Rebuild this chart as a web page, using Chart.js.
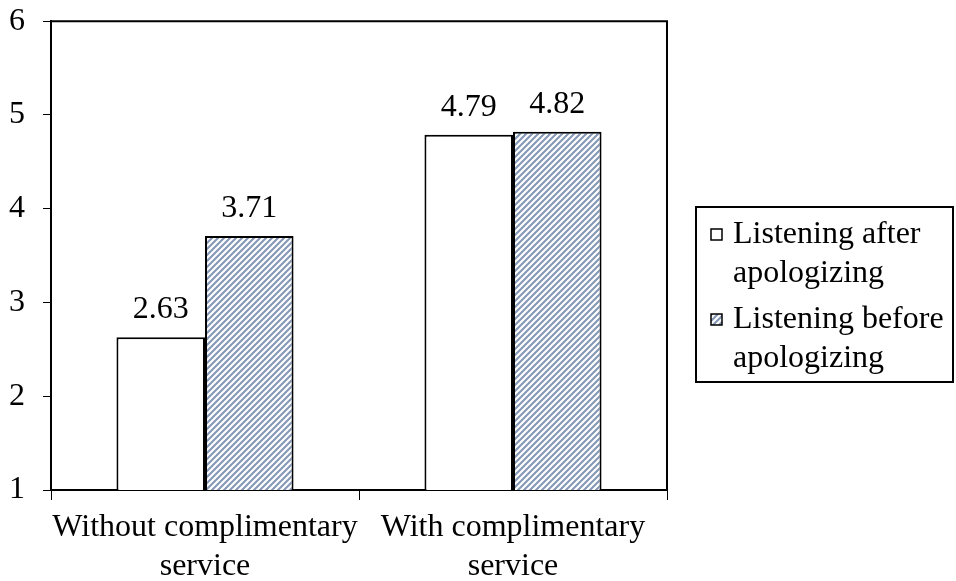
<!DOCTYPE html>
<html>
<head>
<meta charset="utf-8">
<script src="https://cdn.jsdelivr.net/npm/chart.js@4/dist/chart.umd.min.js"></script>
<style>
  html, body { margin: 0; padding: 0; background: #fff; }
  #wrap { position: relative; width: 956px; height: 581px; }
</style>
</head>
<body>
<div id="wrap"><canvas id="c" width="956" height="581"></canvas></div>
<script>
const categories = [['Without complimentary', 'service'], ['With complimentary', 'service']];
const seriesNames = [['Listening after', 'apologizing'], ['Listening before', 'apologizing']];
const afterValues = [2.63, 4.79];
const beforeValues = [3.71, 4.82];
const yTicks = [1, 2, 3, 4, 5, 6];

const FONT = "'Liberation Serif', 'Times New Roman', Times, serif";
const FS = 32;

function makeHatch(color) {
  const s = 6;
  const c = document.createElement('canvas');
  c.width = s; c.height = s;
  const x = c.getContext('2d');
  x.fillStyle = '#ffffff';
  x.fillRect(0, 0, s, s);
  x.strokeStyle = color;
  x.lineWidth = 2.1;
  x.beginPath();
  x.moveTo(-1, s + 1); x.lineTo(s + 1, -1);
  x.moveTo(-s / 2 - 1, s / 2 + 1); x.lineTo(s / 2 + 1, -s / 2 - 1);
  x.moveTo(s / 2 - 1, s * 1.5 + 1); x.lineTo(s * 1.5 + 1, s / 2 - 1);
  x.stroke();
  return x.createPattern(c, 'repeat');
}
const hatch = makeHatch('#8498b6');

const frameAndLabels = {
  id: 'frameAndLabels',
  afterDatasetsDraw(chart) {
    const ctx = chart.ctx;
    const a = chart.chartArea;
    ctx.save();
    ctx.strokeStyle = '#000';
    ctx.lineWidth = 2;
    ctx.beginPath();
    ctx.moveTo(a.left, a.top);
    ctx.lineTo(a.right, a.top);
    ctx.lineTo(a.right, a.bottom);
    ctx.stroke();
    ctx.fillStyle = '#000';
    ctx.font = FS + 'px ' + FONT;
    ctx.textAlign = 'center';
    ctx.textBaseline = 'alphabetic';
    chart.data.datasets.forEach((ds, di) => {
      const meta = chart.getDatasetMeta(di);
      meta.data.forEach((el, i) => {
        ctx.fillText(ds.data[i].toFixed(2), el.x, el.y - 19);
      });
    });
    ctx.restore();
  },
  afterDraw(chart) {
    const ctx = chart.ctx;
    const a = chart.chartArea;
    const lx = a.right + 29, ly = 207, lw = 257, lh = 175;
    ctx.save();
    ctx.strokeStyle = '#000';
    ctx.lineWidth = 2;
    ctx.strokeRect(lx, ly, lw, lh);
    ctx.font = FS + 'px ' + FONT;
    ctx.textAlign = 'left';
    ctx.textBaseline = 'alphabetic';
    const entryTop = [ly + 36, ly + 121];
    chart.data.datasets.forEach((ds, di) => {
      const base = entryTop[di];
      ctx.fillStyle = ds.backgroundColor;
      ctx.fillRect(lx + 15, base - 14, 11, 11);
      ctx.lineWidth = 1.5;
      ctx.strokeStyle = '#000';
      ctx.strokeRect(lx + 15, base - 14, 11, 11);
      ctx.fillStyle = '#000';
      ds.label.forEach((t, k) => ctx.fillText(t, lx + 37, base + k * 39));
    });
    ctx.restore();
  }
};

new Chart(document.getElementById('c'), {
  type: 'bar',
  data: {
    labels: categories,
    datasets: [
      { label: seriesNames[0], data: afterValues, backgroundColor: '#ffffff', borderColor: '#000', borderWidth: 2, borderSkipped: 'bottom' },
      { label: seriesNames[1], data: beforeValues, backgroundColor: hatch, borderColor: '#000', borderWidth: 2, borderSkipped: 'bottom' }
    ]
  },
  options: {
    responsive: false,
    animation: false,
    devicePixelRatio: 1,
    layout: { padding: { left: 0, top: 21, right: 289, bottom: 0 } },
    datasets: { bar: { categoryPercentage: 0.575, barPercentage: 1.0 } },
    plugins: { legend: { display: false }, tooltip: { enabled: false } },
    scales: {
      x: {
        grid: { offset: true, drawOnChartArea: false, drawTicks: true, tickLength: 10, color: '#000', lineWidth: 1 },
        border: { display: true, color: '#000', width: 2 },
        ticks: { color: '#000', font: { family: FONT, size: FS, lineHeight: 1.22 }, padding: 8, maxRotation: 0, autoSkip: false },
        afterFit(s) { s.height = 91; }
      },
      y: {
        min: 1, max: 6,
        afterBuildTicks(s) { s.ticks = yTicks.map(v => ({ value: v })); },
        grid: { drawOnChartArea: false, drawTicks: true, tickLength: 8, color: '#000', lineWidth: 1 },
        border: { display: true, color: '#000', width: 2 },
        ticks: { color: '#000', font: { family: FONT, size: FS, lineHeight: 0.2 }, padding: 18 },
        afterFit(s) { s.width = 51; }
      }
    }
  },
  plugins: [frameAndLabels]
});
</script>
</body>
</html>
